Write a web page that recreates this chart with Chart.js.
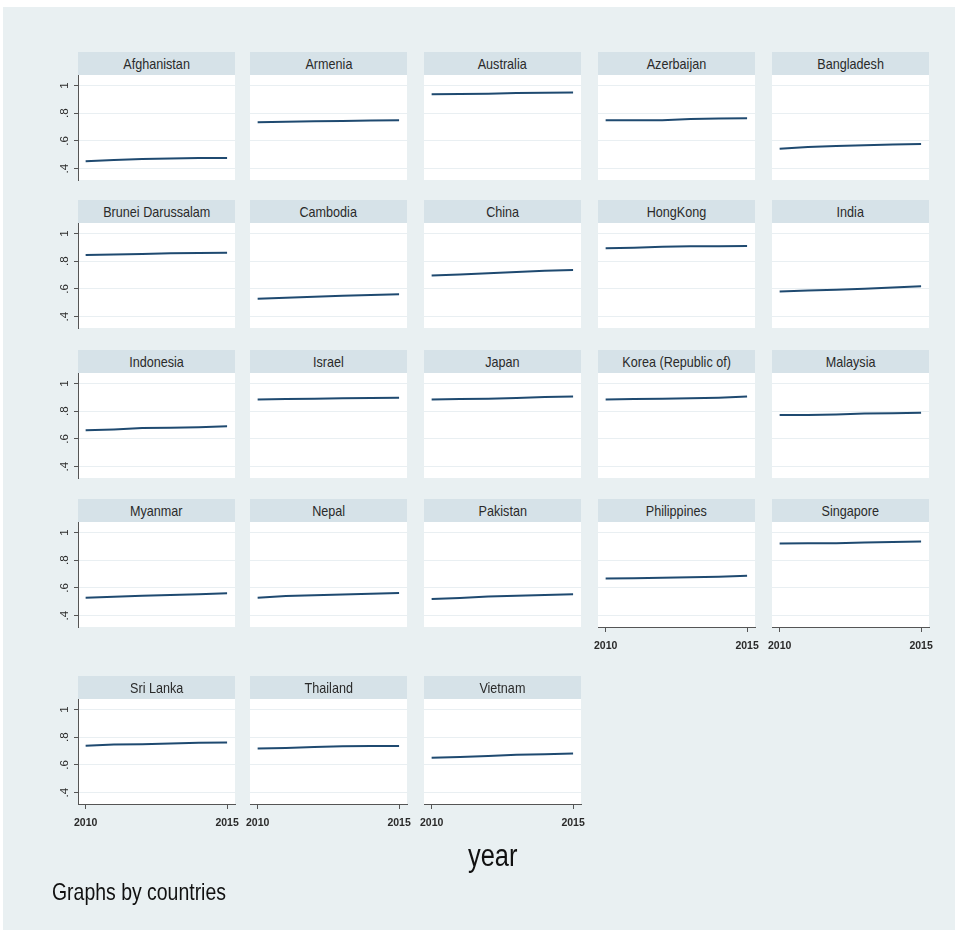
<!DOCTYPE html>
<html>
<head>
<meta charset="utf-8">
<script src="https://cdn.jsdelivr.net/npm/chart.js@4.4.1/dist/chart.umd.min.js"></script>
<style>
  body { margin: 0; background: #fff; }
  #frame { position: absolute; left: 3px; top: 7px; width: 952px; height: 923px; background: #e9f0f2; }
  .hdr { position: absolute; height: 23px; line-height: 23px; background: #d6e2e8; text-align: center;
         font-family: "Liberation Sans", Arial, sans-serif; font-size: 15px; color: #2a2a2a; white-space: nowrap; overflow: hidden; }
  .hdr span { display: inline-block; transform: scaleX(0.84); }
  canvas { position: absolute; }
  .txt { position: absolute; font-family: "Liberation Sans", Arial, sans-serif; color: #111; white-space: nowrap; transform-origin: 0 0; }
</style>
</head>
<body>
<div id="frame"></div>
<div id="panels"></div>
<div class="txt" style="left:468px; top:838px; font-size:31px; transform: scaleX(0.82);">year</div>
<div class="txt" style="left:52px; top:878px; font-size:24px; transform: scaleX(0.81);">Graphs by countries</div>
<script>
// values, 2010..2015
const years = [2010, 2011, 2012, 2013, 2014, 2015];
const xTicks = [2010, 2015];
const yTicks = [0.4, 0.6, 0.8, 1];
const yTickLabels = ['.4', '.6', '.8', '1'];

const countries = ['Afghanistan', 'Armenia', 'Australia', 'Azerbaijan', 'Bangladesh',
  'Brunei Darussalam', 'Cambodia', 'China', 'HongKong', 'India',
  'Indonesia', 'Israel', 'Japan', 'Korea (Republic of)', 'Malaysia',
  'Myanmar', 'Nepal', 'Pakistan', 'Philippines', 'Singapore',
  'Sri Lanka', 'Thailand', 'Vietnam'];

const afghanistan = [0.453, 0.463, 0.470, 0.474, 0.476, 0.477];
const armenia     = [0.735, 0.738, 0.742, 0.744, 0.747, 0.749];
const australia   = [0.937, 0.938, 0.940, 0.946, 0.948, 0.949];
const azerbaijan  = [0.749, 0.749, 0.750, 0.759, 0.762, 0.764];
const bangladesh  = [0.544, 0.557, 0.563, 0.569, 0.575, 0.578];
const brunei      = [0.845, 0.849, 0.853, 0.858, 0.860, 0.861];
const cambodia    = [0.529, 0.537, 0.543, 0.550, 0.556, 0.562];
const china       = [0.697, 0.704, 0.713, 0.722, 0.732, 0.736];
const hongkong    = [0.894, 0.898, 0.905, 0.908, 0.909, 0.910];
const india       = [0.581, 0.588, 0.594, 0.602, 0.611, 0.619];
const indonesia   = [0.662, 0.669, 0.679, 0.681, 0.685, 0.691];
const israel      = [0.885, 0.889, 0.891, 0.893, 0.896, 0.897];
const japan       = [0.885, 0.888, 0.891, 0.896, 0.903, 0.906];
const korea       = [0.885, 0.888, 0.891, 0.893, 0.898, 0.906];
const malaysia    = [0.772, 0.772, 0.776, 0.783, 0.786, 0.789];
const myanmar     = [0.530, 0.536, 0.543, 0.549, 0.555, 0.561];
const nepal       = [0.530, 0.541, 0.547, 0.552, 0.558, 0.563];
const pakistan    = [0.520, 0.527, 0.538, 0.544, 0.549, 0.554];
const philippines = [0.669, 0.670, 0.674, 0.678, 0.681, 0.688];
const singapore   = [0.921, 0.922, 0.923, 0.928, 0.932, 0.935];
const srilanka    = [0.739, 0.748, 0.750, 0.755, 0.760, 0.762];
const thailand    = [0.718, 0.722, 0.729, 0.734, 0.736, 0.737];
const vietnam     = [0.652, 0.658, 0.665, 0.673, 0.678, 0.682];

const series = [afghanistan, armenia, australia, azerbaijan, bangladesh,
  brunei, cambodia, china, hongkong, india,
  indonesia, israel, japan, korea, malaysia,
  myanmar, nepal, pakistan, philippines, singapore,
  srilanka, thailand, vietnam];

// panel layout (pixels)
const colX = [78, 250, 424, 598, 772];
const rowTop = [52, 200, 350, 499, 676];
const panelW = 157, hdrH = 23, plotH = 105;
const axisW = 30, axisH = 30, padR = 14;

const whitePlot = {
  id: 'whitePlot',
  beforeDraw(chart) {
    const a = chart.chartArea, ctx = chart.ctx;
    ctx.save();
    ctx.fillStyle = '#ffffff';
    ctx.fillRect(a.left, a.top, a.right - a.left, a.bottom - a.top);
    ctx.restore();
  }
};

const holder = document.getElementById('panels');
const tickFont = { family: '"Liberation Sans", Arial, sans-serif', size: 10.5 };

countries.forEach((name, i) => {
  const row = Math.floor(i / 5), col = i % 5;
  const left = colX[col], top = rowTop[row];
  const showY = col === 0;
  const showX = row === 4 || (row === 3 && col >= 3);

  const hdr = document.createElement('div');
  hdr.className = 'hdr';
  hdr.style.left = left + 'px';
  hdr.style.top = top + 'px';
  hdr.style.width = panelW + 'px';
  const sp = document.createElement('span');
  sp.textContent = name;
  hdr.appendChild(sp);
  holder.appendChild(hdr);

  const cv = document.createElement('canvas');
  cv.width = axisW + panelW + padR;
  cv.height = plotH + axisH;
  cv.style.left = (left - axisW) + 'px';
  cv.style.top = (top + hdrH) + 'px';
  holder.appendChild(cv);

  new Chart(cv, {
    type: 'line',
    data: {
      datasets: [{
        data: years.map((yr, k) => ({ x: yr, y: series[i][k] })),
        borderColor: '#1f4a70',
        borderWidth: 2,
        pointRadius: 0,
        tension: 0
      }]
    },
    options: {
      responsive: false,
      animation: false,
      layout: { padding: { left: 0, right: padR, top: 0, bottom: 0 } },
      plugins: { legend: { display: false }, tooltip: { enabled: false } },
      scales: {
        x: {
          type: 'linear',
          min: 2009.73,
          max: 2015.28,
          afterBuildTicks: s => { s.ticks = xTicks.map(v => ({ value: v })); },
          afterFit: s => { s.height = axisH; s.paddingLeft = 0; s.paddingRight = 0; },
          grid: { display: showX, drawOnChartArea: false, drawTicks: true, tickLength: 5, tickColor: '#555' },
          border: { display: showX, color: '#555', width: 1 },
          ticks: { display: showX, maxRotation: 0, minRotation: 0, padding: 8, color: '#2a2a2a',
                   font: { ...tickFont, weight: 'bold' },
                   callback: v => String(v) }
        },
        y: {
          min: 0.318,
          max: 1.076,
          afterBuildTicks: s => { s.ticks = yTicks.map(v => ({ value: v })); },
          afterFit: s => { s.width = axisW; s.paddingTop = 0; s.paddingBottom = 0; },
          grid: { color: '#e9eff2', lineWidth: 1, drawTicks: showY, tickLength: 4, tickColor: '#555' },
          border: { display: showY, color: '#555', width: 1 },
          ticks: { display: showY, minRotation: 90, maxRotation: 90, crossAlign: 'center', padding: 4,
                   color: '#2a2a2a', font: { ...tickFont, size: 11.5 },
                   callback: v => yTickLabels[yTicks.indexOf(v)] }
        }
      }
    },
    plugins: [whitePlot]
  });
});
</script>
</body>
</html>
